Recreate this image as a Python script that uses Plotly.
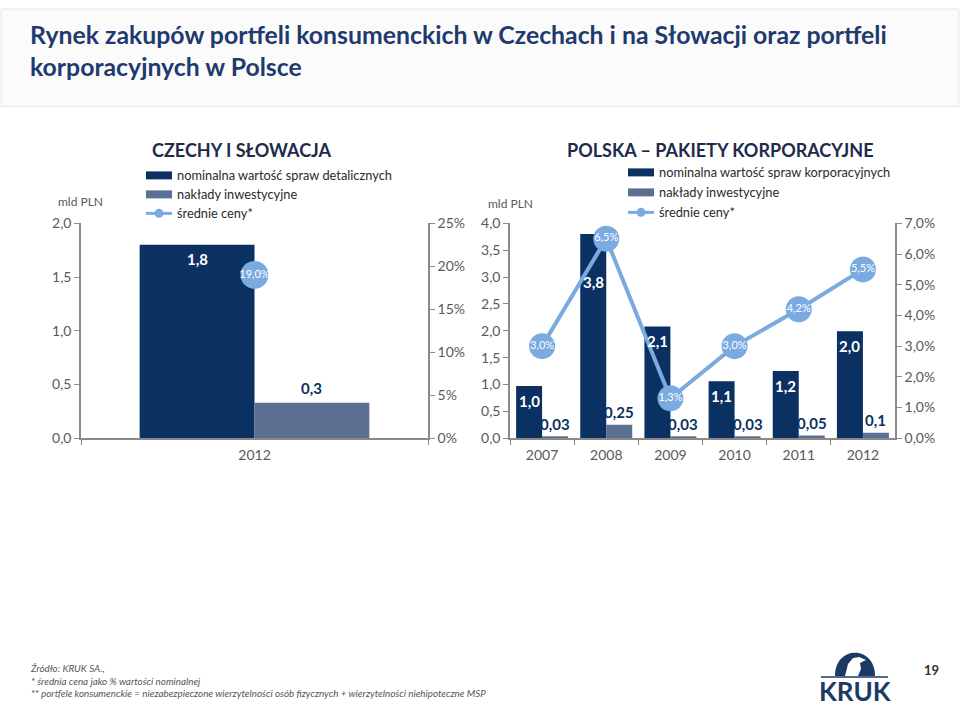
import plotly.graph_objects as go

# ---------------- data ----------------
cz_categories = ["2012"]
cz_nominal = [1.80]
cz_invest = [0.33]
cz_price = [0.19]
cz_nominal_labels = ["1,8"]
cz_invest_labels = ["0,3"]
cz_price_labels = ["19,0%"]

pl_categories = ["2007", "2008", "2009", "2010", "2011", "2012"]
pl_nominal = [0.97, 3.80, 2.08, 1.06, 1.25, 1.99]
pl_invest = [0.03, 0.25, 0.03, 0.03, 0.05, 0.10]
pl_price = [0.030, 0.065, 0.013, 0.030, 0.042, 0.055]
pl_nominal_labels = ["1,0", "3,8", "2,1", "1,1", "1,2", "2,0"]
pl_invest_labels = ["0,03", "0,25", "0,03", "0,03", "0,05", "0,1"]
pl_price_labels = ["3,0%", "6,5%", "1,3%", "3,0%", "4,2%", "5,5%"]

# ---------------- style ----------------
W, H = 960, 719
NAVY = "#0b3163"
SLATE = "#5b6f93"
LBLUE = "#7aaae0"
AXIS = "#8a8a8a"
TICKC = "#595959"
FONT = "Lato, Liberation Sans, Arial, sans-serif"
TITLEC = "#1f3a6e"

# empirical vertical correction for how the page is captured
VOFF, VSCALE = 9.5, 0.977


def px(x):
    return x / W


def py(y):
    return 1 - ((y - VOFF) / VSCALE) / H


fig = go.Figure()

# ---- left chart (Czech & Slovakia) ----
wl = 0.331
fig.add_trace(go.Bar(x=cz_categories, y=cz_nominal, width=[wl], offset=[-wl],
                     marker=dict(color=NAVY, line=dict(width=0)),
                     xaxis="x", yaxis="y", showlegend=False, hoverinfo="skip"))
fig.add_trace(go.Bar(x=cz_categories, y=cz_invest, width=[wl], offset=[0],
                     marker=dict(color=SLATE, line=dict(width=0)),
                     xaxis="x", yaxis="y", showlegend=False, hoverinfo="skip"))
fig.add_trace(go.Scatter(x=cz_categories, y=cz_price, mode="lines+markers+text",
                         text=cz_price_labels, textposition="middle center",
                         textfont=dict(family=FONT, size=11, color="white"),
                         line=dict(color=LBLUE, width=4),
                         marker=dict(size=28, color=LBLUE),
                         xaxis="x", yaxis="y2", showlegend=False, hoverinfo="skip"))

# ---- right chart (Poland) ----
wr = 0.405
fig.add_trace(go.Bar(x=pl_categories, y=pl_nominal, width=[wr] * 6, offset=[-wr] * 6,
                     marker=dict(color=NAVY, line=dict(width=0)),
                     xaxis="x2", yaxis="y3", showlegend=False, hoverinfo="skip"))
fig.add_trace(go.Bar(x=pl_categories, y=pl_invest, width=[wr] * 6, offset=[0] * 6,
                     marker=dict(color=SLATE, line=dict(width=0)),
                     xaxis="x2", yaxis="y3", showlegend=False, hoverinfo="skip"))
fig.add_trace(go.Scatter(x=pl_categories, y=pl_price, mode="lines+markers+text",
                         text=pl_price_labels, textposition="middle center",
                         textfont=dict(family=FONT, size=11, color="white"),
                         line=dict(color=LBLUE, width=4),
                         marker=dict(size=26, color=LBLUE),
                         xaxis="x2", yaxis="y4", showlegend=False, hoverinfo="skip"))

annotations = []


def note(x, y, text, size, color, xa="center", ya="middle", **kw):
    annotations.append(dict(x=px(x), y=py(y), xref="paper", yref="paper", xanchor=xa, yanchor=ya,
                            showarrow=False, text=text, font=dict(family=FONT, size=size, color=color), **kw))


# bar value labels
for i, (v, t) in enumerate(zip(cz_nominal, cz_nominal_labels)):
    annotations.append(dict(x=i - wl / 2, y=v, xref="x", yref="y", text=f"<b>{t}</b>",
                            showarrow=False, yshift=-14, xanchor="center", yanchor="middle",
                            font=dict(family=FONT, size=15, color="white")))
for i, (v, t) in enumerate(zip(cz_invest, cz_invest_labels)):
    annotations.append(dict(x=i + wl / 2, y=v, xref="x", yref="y", text=f"<b>{t}</b>",
                            showarrow=False, yshift=15, xanchor="center", yanchor="middle",
                            font=dict(family=FONT, size=15, color=NAVY)))
for i, (v, t) in enumerate(zip(pl_nominal, pl_nominal_labels)):
    shift = -48 if v > 3 else -15
    annotations.append(dict(x=i - wr / 2, y=v, xref="x2", yref="y3", text=f"<b>{t}</b>",
                            showarrow=False, yshift=shift, xanchor="center", yanchor="middle",
                            font=dict(family=FONT, size=15, color="white")))
for i, (v, t) in enumerate(zip(pl_invest, pl_invest_labels)):
    annotations.append(dict(x=i + wr / 2, y=v, xref="x2", yref="y3", text=f"<b>{t}</b>",
                            showarrow=False, yshift=13, xanchor="center", yanchor="middle",
                            font=dict(family=FONT, size=15, color=NAVY)))

# header title
note(28, 51, "<b>Rynek zakupów portfeli konsumenckich w Czechach i na Słowacji oraz portfeli<br>korporacyjnych w Polsce</b>",
     24.8, TITLEC, xa="left", align="left")

# chart titles
note(242, 151, "<b>CZECHY I SŁOWACJA</b>", 18, "#1d2b4c")
note(720, 151, "<b>POLSKA – PAKIETY KORPORACYJNE</b>", 18, "#1d2b4c")

# unit labels
note(80, 202, "mld PLN", 12, TICKC)
note(510, 204, "mld PLN", 12, TICKC)

shapes = []


def legend(x0, ys, labels):
    for y, col in zip(ys[:2], [NAVY, SLATE]):
        shapes.append(dict(type="rect", xref="paper", yref="paper",
                           x0=px(x0), x1=px(x0 + 26), y0=py(y - 4), y1=py(y + 4),
                           fillcolor=col, line=dict(width=0)))
    y = ys[2]
    shapes.append(dict(type="line", xref="paper", yref="paper",
                       x0=px(x0), x1=px(x0 + 26), y0=py(y), y1=py(y),
                       line=dict(color=LBLUE, width=3)))
    shapes.append(dict(type="circle", xref="paper", yref="paper",
                       x0=px(x0 + 8.5), x1=px(x0 + 17.5), y0=py(y - 4.5), y1=py(y + 4.5),
                       fillcolor=LBLUE, line=dict(width=0)))
    for y, lab in zip(ys, labels):
        note(x0 + 29, y, lab, 12.8, "#2a2a2a", xa="left")


legend(146, [176, 195, 214], ["nominalna wartość spraw detalicznych", "nakłady inwestycyjne", "średnie ceny*"])
legend(628, [173, 193, 213], ["nominalna wartość spraw korporacyjnych", "nakłady inwestycyjne", "średnie ceny*"])

# header box
shapes.insert(0, dict(type="rect", xref="paper", yref="paper", x0=px(1), x1=px(959), y0=py(107), y1=1,
                      fillcolor="#fbfbfb", line=dict(color="#e6e6e6", width=1), layer="below"))

# footer
foot = ["Źródło: KRUK SA.,", "* średnia cena jako % wartości nominalnej",
        "** portfele konsumenckie = niezabezpieczone wierzytelności osób fizycznych + wierzytelności niehipoteczne MSP"]
note(28, 681.5, "<i>" + "<br>".join(foot) + "</i>", 9.8, "#555555", xa="left", align="left")
note(931, 671, "<b>19</b>", 13, "#333333")

# logo (simplified)
LOGO = "#1c3a66"
shapes.append(dict(type="path", xref="paper", yref="paper",
                   path=f"M {px(835)} {py(677)} C {px(835)} {py(646)}, {px(875)} {py(646)}, {px(875)} {py(677)} Z",
                   fillcolor=LOGO, line=dict(width=0)))
shapes.append(dict(type="path", xref="paper", yref="paper",
                   path=(f"M {px(845)} {py(677)} L {px(848)} {py(665)} L {px(853)} {py(659)} L {px(859)} {py(658)} "
                         f"L {px(866)} {py(661)} L {px(860)} {py(664)} L {px(861)} {py(670)} L {px(858)} {py(677)} Z"),
                   fillcolor="white", line=dict(width=0)))
shapes.append(dict(type="line", xref="paper", yref="paper", x0=px(821), x1=px(888), y0=py(678), y1=py(678),
                   line=dict(color=LOGO, width=1.5)))
note(855, 692, "<b>KRUK</b>", 26, LOGO)

axis_common = dict(showline=True, linecolor=AXIS, linewidth=1.5, ticks="outside", tickcolor=AXIS,
                   ticklen=5, showgrid=False, zeroline=False,
                   tickfont=dict(family=FONT, size=14, color=TICKC))

ydom = [py(439), py(224)]

fig.update_layout(
    width=W, height=H, margin=dict(l=0, r=0, t=0, b=0),
    paper_bgcolor="white", plot_bgcolor="rgba(0,0,0,0)",
    barmode="overlay", separators=", ",
    showlegend=False,
    xaxis=dict(domain=[px(81), px(428)], type="category", range=[-0.5, 0.5],
               showline=True, linecolor=AXIS, linewidth=1.5, ticks="outside", tickcolor=AXIS, ticklen=5,
               tickson="boundaries", showgrid=False, zeroline=False, anchor="y", ticklabelstandoff=3,
               tickfont=dict(family=FONT, size=14, color=TICKC)),
    yaxis=dict(domain=ydom, range=[0, 2.0], dtick=0.5, tickformat=".1f", anchor="x", side="left",
               **axis_common),
    yaxis2=dict(domain=ydom, range=[0, 0.25], dtick=0.05, tickformat=".0%", anchor="x", side="right",
                overlaying="y", **axis_common),
    xaxis2=dict(domain=[px(510), px(895)], type="category", range=[-0.5, 5.5],
                showline=True, linecolor=AXIS, linewidth=1.5, ticks="outside", tickcolor=AXIS, ticklen=5,
                tickson="boundaries", showgrid=False, zeroline=False, anchor="y3", ticklabelstandoff=3,
                tickfont=dict(family=FONT, size=14, color=TICKC)),
    yaxis3=dict(domain=ydom, range=[0, 4.0], dtick=0.5, tickformat=".1f", anchor="x2", side="left",
                **axis_common),
    yaxis4=dict(domain=ydom, range=[0, 0.07], dtick=0.01, tickformat=".1%", anchor="x2", side="right",
                overlaying="y3", **axis_common),
    annotations=annotations,
    shapes=shapes,
)

fig.write_html("out.html")
